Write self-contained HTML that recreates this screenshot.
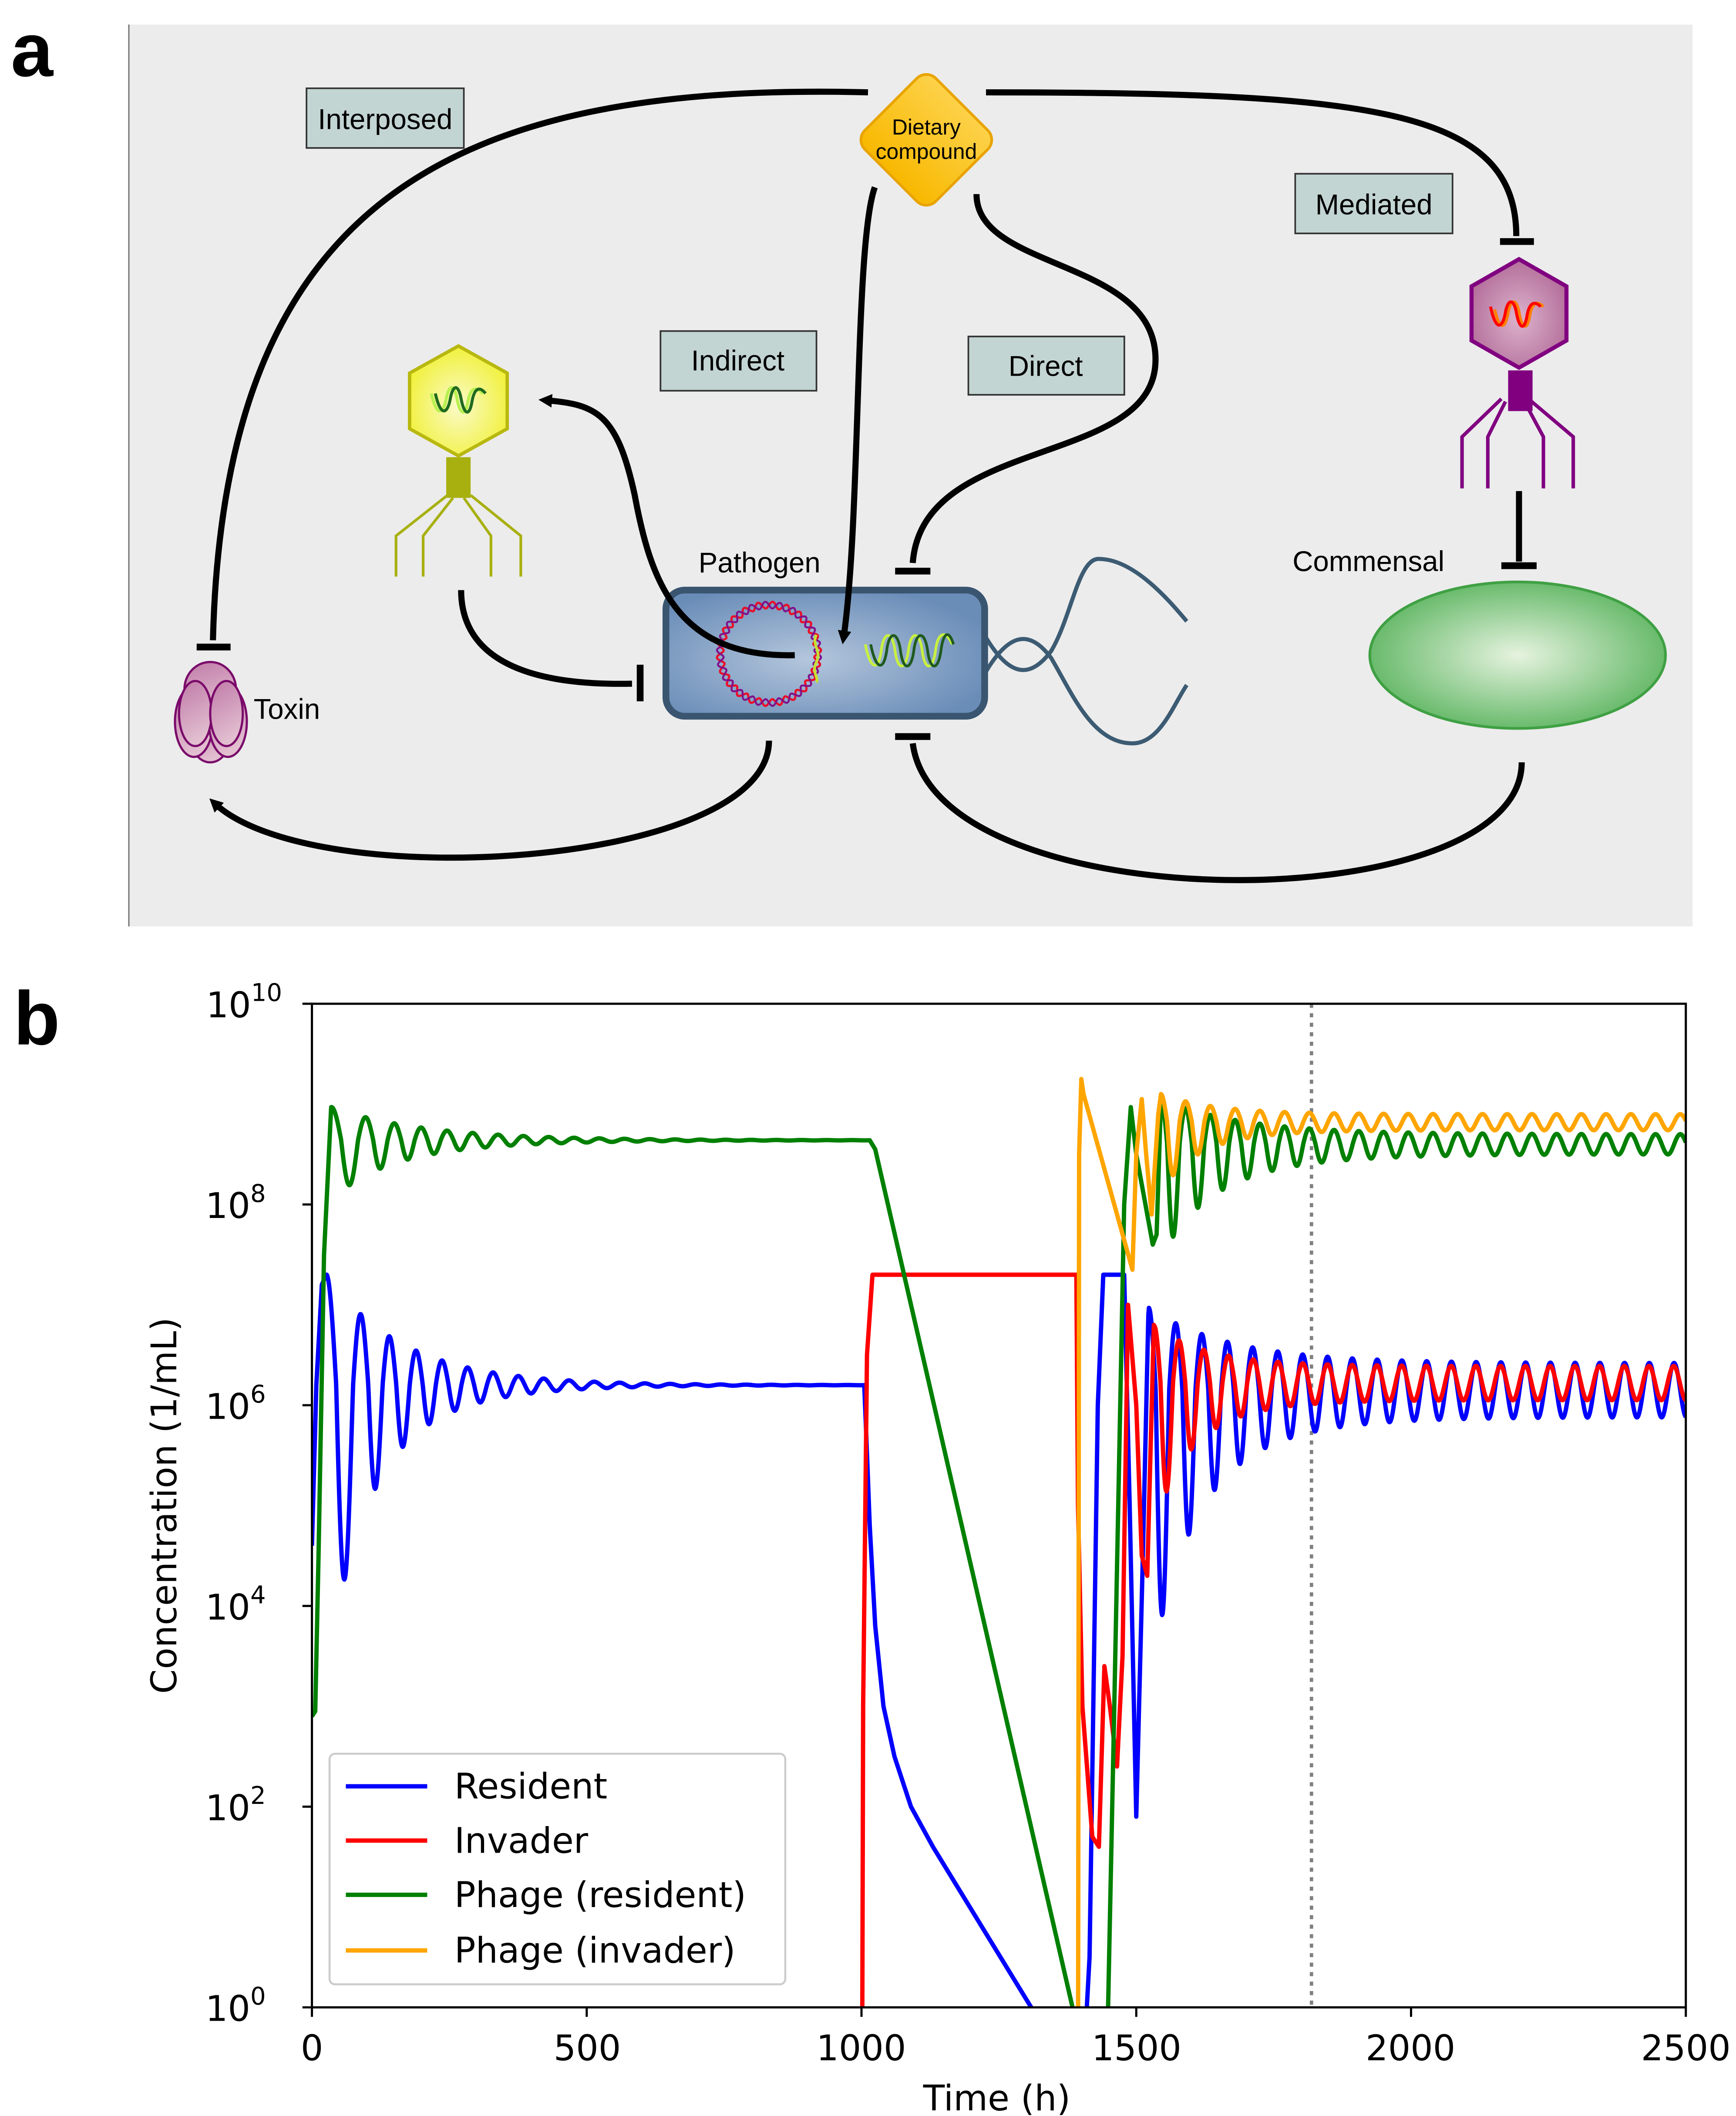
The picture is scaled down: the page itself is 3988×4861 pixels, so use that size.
<!DOCTYPE html>
<html><head><meta charset="utf-8"><style>
html,body{margin:0;padding:0;background:#fff}
svg{display:block}
text{font-family:"DejaVu Sans","Liberation Sans",sans-serif}
.pa text{font-family:"Liberation Sans",Arial,sans-serif}
</style></head><body>
<svg id="s" width="3988" height="4861" viewBox="0 0 1280 1560" xmlns="http://www.w3.org/2000/svg">
<defs>
<radialGradient id="cellg" cx="0.45" cy="0.55" r="0.6"><stop offset="0" stop-color="#b4c6dc"/><stop offset="1" stop-color="#6a8db8"/></radialGradient>
<radialGradient id="comg" cx="0.5" cy="0.5" r="0.55"><stop offset="0" stop-color="#e6f3df"/><stop offset="1" stop-color="#5db561"/></radialGradient>
<radialGradient id="purg" cx="0.5" cy="0.55" r="0.6"><stop offset="0" stop-color="#dcb3cc"/><stop offset="1" stop-color="#b06896"/></radialGradient>
<radialGradient id="yelg" cx="0.5" cy="0.55" r="0.6"><stop offset="0" stop-color="#fafac8"/><stop offset="1" stop-color="#f0f030"/></radialGradient>
<linearGradient id="toxg" x1="0" y1="0" x2="0.3" y2="1"><stop offset="0" stop-color="#c07aa8"/><stop offset="1" stop-color="#e2bfd0"/></linearGradient>
<linearGradient id="dieg" x1="0" y1="0" x2="0" y2="1"><stop offset="0" stop-color="#fdd24a"/><stop offset="1" stop-color="#f8b800"/></linearGradient>
<marker id="ah" markerWidth="10" markerHeight="10" refX="5" refY="5" orient="auto" markerUnits="userSpaceOnUse"><path d="M0,0 L10,5 L0,10 Z" fill="#000"/></marker>
<clipPath id="ax"><rect x="230" y="740" width="1013" height="740"/></clipPath>
</defs>

<g class="pa">
<rect x="95" y="18" width="1153" height="665" fill="#ececec"/>
<line x1="95" y1="18" x2="95" y2="683" stroke="#777" stroke-width="1"/>

<!-- Pathogen cell (drawn before connectors) -->
<g fill="none" stroke="#3c5b73" stroke-width="3">
<path d="M727,470 C745,500 760,500 775,480 C790,455 795,412 810,412 C835,412 860,440 875,458"/>
<path d="M727,495 C745,465 760,465 775,485 C790,510 805,548 835,548 C855,548 865,520 875,505"/>
</g>
<rect x="491" y="435" width="235" height="93" rx="14" fill="url(#cellg)" stroke="#3a5570" stroke-width="5"/>
<path id="plas" fill="none" stroke="#e8102a" stroke-width="1.6"/>
<path id="plas2" fill="none" stroke="#80108a" stroke-width="1.4"/>
<path d="M638,475 C642,495 648,495 650,478 C652,465 658,465 660,480 C662,495 668,495 670,478 C672,465 678,465 680,480 C682,495 688,495 690,478 C692,465 698,465 702,475" fill="none" stroke="#c8f040" stroke-width="2"/>
<path d="M642,475 C646,495 652,495 654,478 C656,465 662,465 664,480 C666,495 672,495 674,478 C676,465 682,465 684,480 C686,495 692,495 694,478 C696,465 700,465 703,475" fill="none" stroke="#1f5a1f" stroke-width="2"/>
<path d="M602,468 C598,475 606,480 602,488 C598,495 604,500 602,503" fill="none" stroke="#c8e030" stroke-width="2"/>

<g fill="none" stroke="#000" stroke-width="4.5" stroke-linecap="butt">
<path d="M640,68 C330,60 165,150 157,472"/>
<path d="M145,477 H170" stroke-width="5"/>
<path d="M727,68 C1010,68 1118,80 1118,174"/>
<path d="M1106,178 H1131" stroke-width="5"/>
<path d="M645,138 C630,180 635,380 622,470" marker-end="url(#ah)"/>
<path d="M720,143 C720,200 852,190 852,265 C852,345 680,320 673,415"/>
<path d="M660,421 H686" stroke-width="5"/>
<path d="M586,483 C500,485 480,430 468,365 C455,305 440,298 402,295" marker-end="url(#ah)"/>
<path d="M340,435 C340,500 420,505 466,504"/>
<path d="M472,490 V517" stroke-width="5"/>
<path d="M567,546 C567,640 230,660 158,592" marker-end="url(#ah)"/>
<path d="M1122,562 C1122,680 690,680 673,548"/>
<path d="M660,543 H686" stroke-width="5"/>
<path d="M1120,362 V414"/>
<path d="M1107,417 H1133" stroke-width="5"/>
</g>

<g stroke="#333" stroke-width="1.2" fill="#c3d5d2">
<rect x="226" y="65" width="116" height="44"/>
<rect x="955" y="128" width="116" height="44"/>
<rect x="487" y="244" width="115" height="44"/>
<rect x="714" y="248" width="115" height="43"/>
</g>
<g font-size="21" text-anchor="middle" fill="#000">
<text x="284" y="95">Interposed</text>
<text x="1013" y="158">Mediated</text>
<text x="544" y="273">Indirect</text>
<text x="771" y="277">Direct</text>
<text x="560" y="422">Pathogen</text>
<text x="1009" y="421">Commensal</text>
<text x="187" y="530" text-anchor="start">Toxin</text>
</g>

<rect x="646" y="66" width="74" height="74" rx="10" transform="rotate(45 683 103)" fill="url(#dieg)" stroke="#e8a400" stroke-width="2"/>
<text x="683" y="99" font-size="16" text-anchor="middle">Dietary</text>
<text x="683" y="117" font-size="16" text-anchor="middle">compound</text>

<ellipse cx="1119" cy="483" rx="109" ry="54" fill="url(#comg)" stroke="#3fa043" stroke-width="2"/>

<g stroke="#800080" fill="none" stroke-width="2.6">
<path d="M1107,294 L1078,322 V360 M1110,296 L1097,322 V360 M1124,296 L1138,322 V360 M1127,294 L1160,322 V360"/>
</g>
<rect x="1112" y="273" width="18" height="30" fill="#800080"/>
<polygon points="1120,191 1155,211 1155,251 1120,271 1085,251 1085,211" fill="url(#purg)" stroke="#800080" stroke-width="3"/>
<path d="M1102,228 C1106,245 1110,242 1112,230 C1114,220 1118,220 1120,230 C1122,242 1126,245 1128,232 C1130,222 1134,222 1138,226" fill="none" stroke="#ff7f00" stroke-width="2.2"/>
<path d="M1099,226 C1103,245 1108,242 1110,230 C1112,220 1116,220 1118,230 C1120,242 1124,245 1126,232 C1128,222 1132,222 1136,226" fill="none" stroke="#f00" stroke-width="2.2"/>

<g stroke="#a8b010" fill="none" stroke-width="2">
<path d="M330,365 L292,395 V425 M334,367 L312,395 V425 M342,367 L362,395 V425 M347,365 L384,395 V425"/>
</g>
<rect x="329" y="337" width="18" height="30" fill="#a8b010"/>
<polygon points="338,255 374,275 374,316 338,336 302,316 302,275" fill="url(#yelg)" stroke="#b8b810" stroke-width="2.5"/>
<path d="M318,290 C322,308 327,305 329,294 C331,283 335,283 337,294 C339,305 343,308 345,296 C347,285 351,285 356,290" fill="none" stroke="#b8f050" stroke-width="2.2"/>
<path d="M321,290 C325,308 330,305 332,294 C334,283 338,283 340,294 C342,305 346,308 348,296 C350,285 354,285 358,290" fill="none" stroke="#1f6a1f" stroke-width="2.2"/>

<g stroke="#7a0a6a" stroke-width="1.6" fill="url(#toxg)">
<ellipse cx="155" cy="508" rx="19" ry="20"/>
<ellipse cx="155" cy="545" rx="14" ry="17"/>
<ellipse cx="143" cy="532" rx="14" ry="26"/>
<ellipse cx="168" cy="532" rx="14" ry="26"/>
<ellipse cx="144" cy="526" rx="12" ry="24"/>
<ellipse cx="167" cy="526" rx="12" ry="24"/>
</g>
<text x="8" y="56" font-size="56" font-weight="bold">a</text>
<text x="10" y="770" font-size="56" font-weight="bold">b</text>
</g>

<line x1="967" y1="740" x2="967" y2="1480" stroke="#808080" stroke-width="2.5" stroke-dasharray="3 4"/>
<g id="curves" clip-path="url(#ax)" fill="none" stroke-width="3.2" stroke-linejoin="round"></g>
<rect x="230" y="740" width="1013" height="740" fill="none" stroke="#000" stroke-width="1.6"/>
<g id="ticks" stroke="#000" stroke-width="1.6"></g>
<g font-size="26" text-anchor="middle">
<text x="230" y="1519">0</text><text x="433" y="1519">500</text><text x="635" y="1519">1000</text><text x="838" y="1519">1500</text><text x="1040" y="1519">2000</text><text x="1243" y="1519">2500</text>
<text x="735" y="1556">Time (h)</text>
<text transform="translate(130,1110) rotate(-90)">Concentration (1/mL)</text>
</g>
<g font-size="26" text-anchor="end">
<text x="196" y="1490">10<tspan font-size="18" dy="-12">0</tspan></text>
<text x="196" y="1342">10<tspan font-size="18" dy="-12">2</tspan></text>
<text x="196" y="1194">10<tspan font-size="18" dy="-12">4</tspan></text>
<text x="196" y="1046">10<tspan font-size="18" dy="-12">6</tspan></text>
<text x="196" y="898">10<tspan font-size="18" dy="-12">8</tspan></text>
<text x="208" y="750">10<tspan font-size="18" dy="-12">10</tspan></text>
</g>
<rect x="243" y="1293" width="336" height="170" rx="4" fill="#fff" fill-opacity="0.85" stroke="#ccc" stroke-width="1.5"/>
<g stroke-width="3.2">
<line x1="255" y1="1317" x2="315" y2="1317" stroke="#0000ff"/>
<line x1="255" y1="1357" x2="315" y2="1357" stroke="#ff0000"/>
<line x1="255" y1="1397" x2="315" y2="1397" stroke="#008000"/>
<line x1="255" y1="1438" x2="315" y2="1438" stroke="#ffa500"/>
</g>
<g font-size="26">
<text x="335" y="1326">Resident</text>
<text x="335" y="1366">Invader</text>
<text x="335" y="1406">Phage (resident)</text>
<text x="335" y="1447">Phage (invader)</text>
</g>
</svg>
<script>
(function(){
var NS="http://www.w3.org/2000/svg";
function wav(id,ph){var d="";for(var i=0;i<=360;i++){var a=i*Math.PI/180;var r=36+2.5*Math.sin(22*a+ph);d+=(i?"L":"M")+(567+r*Math.cos(a)).toFixed(2)+","+(482+r*Math.sin(a)).toFixed(2);}document.getElementById(id).setAttribute("d",d);}
wav("plas2",0);wav("plas",Math.PI);
function X(t){return 230+t*0.4052;}
function Y(v){return 1480-v*74;}
function osc(pts,t0,t1,mean,amp,down,per){
  var ph=0;
  for(var t=t0;t<=t1;t+=1){
    var c=Math.cos(ph), a=amp(t);
    var v=mean+(c>0?c*a:c*a*down(t));
    pts.push([t,v]);
    ph+=2*Math.PI/per(t);
  }
}
function add(pts,col){
  var d="";
  for(var i=0;i<pts.length;i++){d+=(i?"L":"M")+X(pts[i][0]).toFixed(2)+","+Y(pts[i][1]).toFixed(2);}
  var p=document.createElementNS(NS,"path");p.setAttribute("d",d);p.setAttribute("stroke",col);
  document.getElementById("curves").appendChild(p);
}
var b=[[0,4.6],[8,6.2],[18,7.2],[26,7.3]];
osc(b,27,1005,6.2,function(t){return 1.1*Math.exp(-(t-27)/140);},function(t){return 1+1.6*Math.exp(-(t-27)/120);},function(t){return 46+26*Math.exp(-(t-27)/60);});
b.push([1008,5.8],[1015,4.8],[1025,3.8],[1040,3.0],[1060,2.5],[1090,2.0],[1130,1.6],[1320,-0.1]);
add(b,"#0000ff");
var b2=[[1400,-1],[1415,0.5],[1430,6],[1440,7.3],[1478,7.3],[1488,5],[1500,1.9],[1512,4.5],[1522,6.9]];
osc(b2,1523,2500,6.15,function(t){return 0.27+0.55*Math.exp(-(t-1523)/150);},function(t){return 1+2.5*Math.exp(-(t-1523)/120);},function(t){return 45+5*Math.exp(-(t-1523)/100);});
add(b2,"#0000ff");
var r=[[1001,-1],[1003,3],[1010,6.5],[1020,7.3],[1391,7.3],[1394,5],[1402,3],[1420,1.7],[1432,1.6],[1442,3.4],[1452,3.0],[1465,2.4],[1475,3.5],[1485,7.0],[1500,6.0],[1510,4.5],[1520,4.3],[1532,6.8]];
osc(r,1533,2500,6.22,function(t){return 0.17+0.4*Math.exp(-(t-1533)/100);},function(t){return 1+1.5*Math.exp(-(t-1533)/100);},function(t){return 45;});
add(r,"#ff0000");
var g=[[0,2.9],[6,2.95],[12,4.5],[22,7.5],[35,8.97]];
osc(g,36,1015,8.64,function(t){return 0.33*Math.exp(-(t-36)/170);},function(t){return 1+0.8*Math.exp(-(t-36)/150);},function(t){return 46+26*Math.exp(-(t-36)/60);});
g.push([1025,8.55],[1405,-0.5]);
add(g,"#008000");
var g2=[[1445,-1],[1460,3],[1478,8],[1490,8.97],[1500,8.5],[1530,7.6],[1537,7.7]];
osc(g2,1545,2500,8.6,function(t){return 0.1+0.35*Math.exp(-(t-1545)/150);},function(t){return 1+1.5*Math.exp(-(t-1545)/150);},function(t){return 45;});
add(g2,"#008000");
var o=[[1394,-1],[1396,8.5],[1400,9.25],[1404,9.1],[1493,7.35],[1500,8.5],[1510,9.05],[1518,8.5],[1528,7.9],[1540,8.9]];
osc(o,1545,2500,8.82,function(t){return 0.08+0.2*Math.exp(-(t-1545)/100);},function(t){return 1+1.5*Math.exp(-(t-1545)/100);},function(t){return 45;});
add(o,"#ffa500");
var tk=document.getElementById("ticks"),s="";
[0,500,1000,1500,2000,2500].forEach(function(t){s+="M"+X(t)+",1480v7";});
for(var v=0;v<=10;v+=2){s+="M223,"+Y(v)+"h7";}
var p=document.createElementNS(NS,"path");p.setAttribute("d",s);tk.appendChild(p);
})();
</script>
</body></html>
